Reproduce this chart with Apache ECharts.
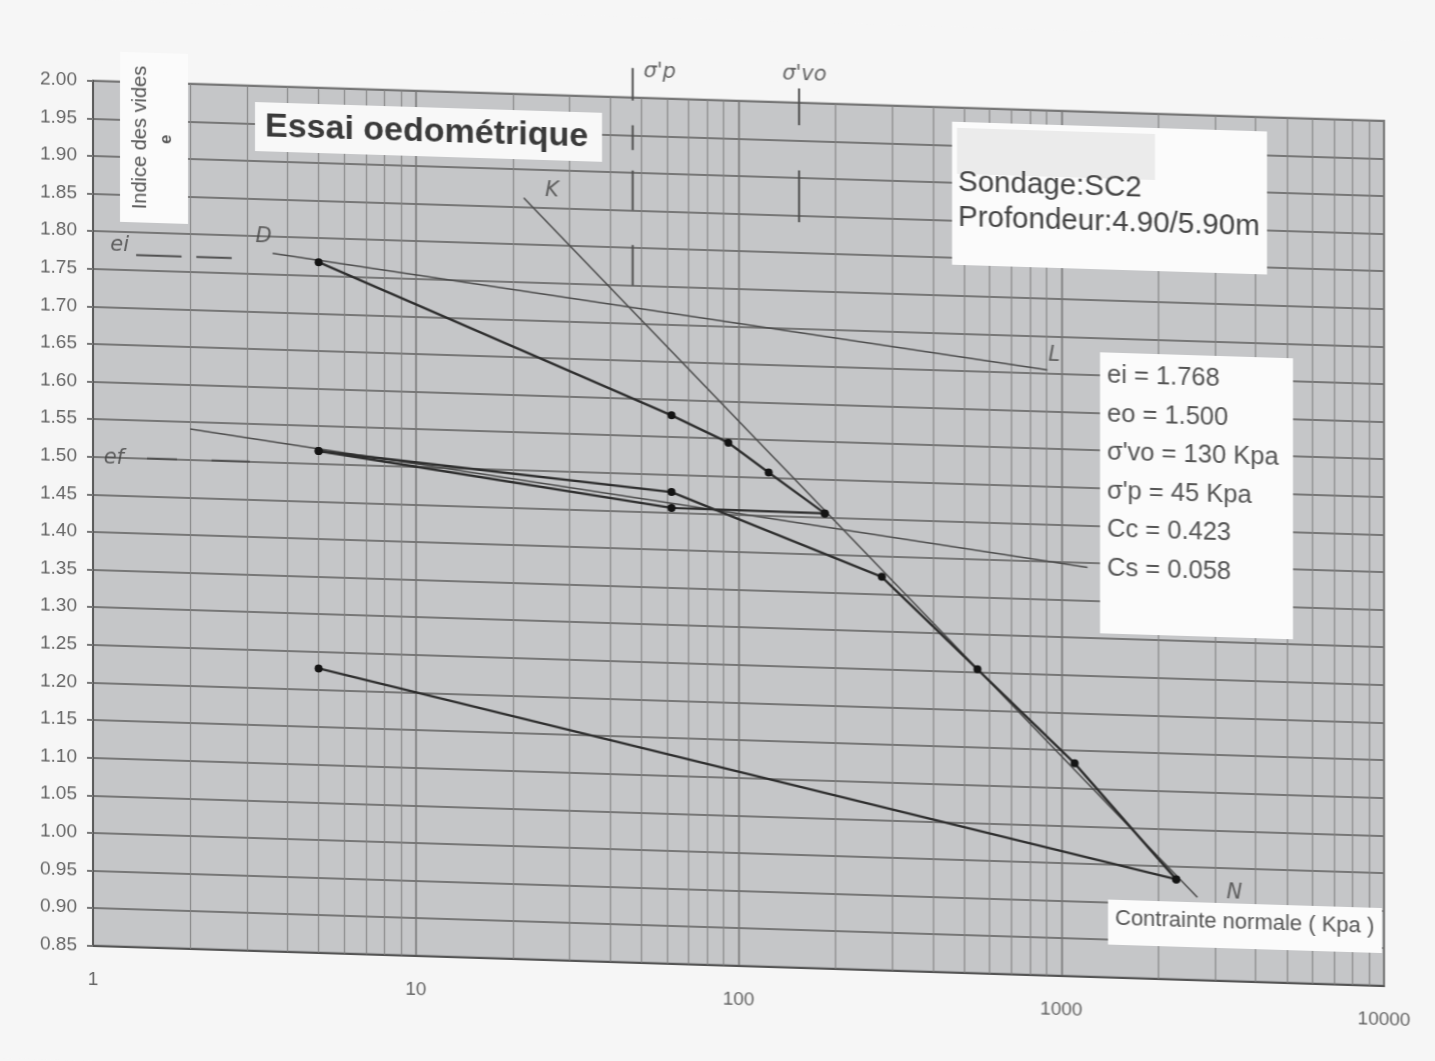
<!DOCTYPE html>
<html><head><meta charset="utf-8">
<script src="https://cdn.jsdelivr.net/npm/echarts@6/dist/echarts.min.js"></script>
<style>
html,body{margin:0;padding:0;background:#f6f6f6;overflow:hidden;}
#c{width:1435px;height:1061px;transform:skewY(1.78deg);transform-origin:93px 80px;}
</style></head><body><div id="c"></div>
<script>
// ---- axis ticks ----
const yTicks = { min: 0.85, max: 2.00, step: 0.05 };
const xTickLabels = [1, 10, 100, 1000, 10000];
const minorMultipliers = [2, 3, 4, 5, 6, 7, 8, 9];

// ---- test points (contrainte Kpa, indice des vides e) ----
const loadX = [5, 62, 93, 124, 185];
const loadE = [1.768, 1.579, 1.545, 1.507, 1.455];
const unloadX = [185, 62, 5];
const unloadE = [1.455, 1.456, 1.517];
const reloadX = [5, 62, 278, 550, 1100, 2270];
const reloadE = [1.517, 1.477, 1.373, 1.254, 1.133, 0.983];
const finalX = [2270, 5];
const finalE = [0.983, 1.228];

// ---- hand-drawn construction lines ----
const lineDX = [3.6, 905];   const lineDE = [1.778, 1.655];
const lineKX = [21.6, 2640]; const lineKE = [1.862, 0.960];
const lineCsX = [2, 1205];   const lineCsE = [1.541, 1.394];
const eiDashX = [[1.36, 1.88], [2.09, 2.69]]; const eiLevel = 1.770;
const efDashX = [[1.47, 1.82], [2.33, 3.06]]; const efLevel = 1.500;
const sigmaPX = 47;  const sigmaPSegs = [[2.039, 1.996], [1.963, 1.930], [1.903, 1.850], [1.804, 1.750]];
const sigmaVX = 154; const sigmaVSegs = [[2.019, 1.970], [1.910, 1.841]];

// ---- hand annotations ----
const handText = ['ei', 'ef', 'D', 'L', 'K', 'N', "σ'p", "σ'vo"];
const handX = [1.21, 1.16, 3.38, 950, 26.4, 3436, 57, 160];
const handE = [1.782, 1.499, 1.800, 1.675, 1.873, 0.967, 2.035, 2.037];

// ---- summary text ----
const paramLines = ['ei = 1.768', 'eo = 1.500', "σ'vo = 130 Kpa", "σ'p = 45 Kpa", 'Cc = 0.423', 'Cs = 0.058'];
const infoLines = ['Sondage:SC2', 'Profondeur:4.90/5.90m'];

const pair = (xs, es) => xs.map((x, i) => [x, es[i]]);
const dashes = (segs, level) => { const d = []; segs.forEach((s, i) => { if (i) d.push([s[0], '-']); d.push([s[0], level], [s[1], level]); }); return d; };
const vsegs = (x, segs) => { const d = []; segs.forEach((s, i) => { if (i) d.push([x, '-']); d.push([x, s[0]], [x, s[1]]); }); return d; };

const minorX = [];
for (let d = 0; d < 4; d++) minorMultipliers.forEach(k => minorX.push(k * Math.pow(10, d)));

const dataStyle = { type: 'line', z: 4, symbol: 'circle', symbolSize: 8, showSymbol: true,
  lineStyle: { color: '#2e2e2e', width: 2.4 }, itemStyle: { color: '#141414' }, clip: false, silent: true };
const constr = { type: 'line', z: 3, symbol: 'none', lineStyle: { color: '#4d4d4d', width: 1.6 }, clip: false, silent: true };
const hand = { type: 'line', z: 3, symbol: 'none', lineStyle: { color: '#505050', width: 2 }, clip: false, silent: true, connectNulls: false };

const chart = echarts.init(document.getElementById('c'), null, { renderer: 'canvas' });
const FONT = '"Liberation Sans", Arial, sans-serif';
chart.setOption({
  backgroundColor: '#f6f6f6',
  animation: false,
  grid: { left: 93, top: 80.7, width: 1291, height: 865, show: true, backgroundColor: '#c5c6c8', borderColor: '#5a5a5a', borderWidth: 2, z: 0 },
  xAxis: {
    type: 'log', logBase: 10, min: xTickLabels[0], max: xTickLabels[xTickLabels.length - 1], z: 0,
    axisLine: { show: true, lineStyle: { color: '#555', width: 2 } },
    axisTick: { show: false },
    splitLine: { show: true, lineStyle: { color: '#777', width: 1.6 } },
    axisLabel: { margin: 25, fontSize: 19, color: '#666', fontFamily: FONT, formatter: v => String(Math.round(v)) }
  },
  yAxis: {
    type: 'value', min: yTicks.min, max: yTicks.max, interval: yTicks.step, z: 0,
    axisLine: { show: true, lineStyle: { color: '#555', width: 2 } },
    axisTick: { show: true, length: 6, lineStyle: { color: '#777', width: 2 } },
    splitLine: { show: true, lineStyle: { color: '#777', width: 1.8 } },
    axisLabel: { margin: 16, fontSize: 19, color: '#666', fontFamily: FONT, formatter: v => v.toFixed(2) }
  },
  graphic: [
    { type: 'rect', z: 2, shape: { x: 120, y: 51, width: 68, height: 170 }, style: { fill: '#fbfbfb' } },
    { type: 'text', z: 3, x: 140, y: 136, rotation: Math.PI / 2, style: { text: 'Indice des vides', font: '20px ' + FONT, fill: '#555', align: 'center', verticalAlign: 'middle' } },
    { type: 'text', z: 3, x: 166, y: 137, rotation: Math.PI / 2, style: { text: 'e', font: 'bold 17px ' + FONT, fill: '#555', align: 'center', verticalAlign: 'middle' } },
    { type: 'rect', z: 2, shape: { x: 255, y: 97, width: 347, height: 49 }, style: { fill: '#f8f8f8' } },
    { type: 'text', z: 3, x: 265, y: 122, style: { text: 'Essai oedométrique', font: 'bold 34px ' + FONT, fill: '#3a3a3a', verticalAlign: 'middle' } },
    { type: 'rect', z: 2, shape: { x: 952, y: 95, width: 315, height: 143 }, style: { fill: '#fbfbfb' } },
    { type: 'rect', z: 2, shape: { x: 957, y: 101, width: 198, height: 46 }, style: { fill: '#ebebeb' } },
    { type: 'text', z: 3, x: 958, y: 156, style: { text: infoLines[0], font: '29.5px ' + FONT, fill: '#444', verticalAlign: 'middle' } },
    { type: 'text', z: 3, x: 958, y: 191, style: { text: infoLines[1], font: '29.5px ' + FONT, fill: '#444', verticalAlign: 'middle' } },
    { type: 'rect', z: 2, shape: { x: 1100, y: 321, width: 193, height: 281 }, style: { fill: '#fbfbfb' } }
  ].concat(paramLines.map((t, i) => ({ type: 'text', z: 3, x: 1107, y: 344 + i * 38.6, style: { text: t, font: '25.5px ' + FONT, fill: '#555', verticalAlign: 'middle' } })))
   .concat([
    { type: 'rect', z: 2, shape: { x: 1108, y: 868, width: 274, height: 45 }, style: { fill: '#fbfbfb' } },
    { type: 'text', z: 3, x: 1115, y: 887, style: { text: 'Contrainte normale ( Kpa )', font: '22px ' + FONT, fill: '#555', verticalAlign: 'middle' } }
  ]),
  series: [
    { type: 'line', z: 0.5, silent: true, symbol: 'none', data: [[1, 0.85]], lineStyle: { opacity: 0 },
      markLine: { z: 0.6, silent: true, symbol: ['none', 'none'], animation: false, label: { show: false },
        lineStyle: { color: '#838383', width: 1.1, type: 'solid' }, data: minorX.map(v => ({ xAxis: v })) } },
    Object.assign({ name: 'Chargement', data: pair(loadX, loadE) }, dataStyle),
    Object.assign({ name: 'Déchargement', data: pair(unloadX, unloadE) }, dataStyle),
    Object.assign({ name: 'Rechargement', data: pair(reloadX, reloadE) }, dataStyle),
    Object.assign({ name: 'Déchargement final', data: pair(finalX, finalE) }, dataStyle),
    Object.assign({ name: 'D', data: pair(lineDX, lineDE) }, constr),
    Object.assign({ name: 'Cc', data: pair(lineKX, lineKE) }, constr),
    Object.assign({ name: 'Cs', data: pair(lineCsX, lineCsE) }, constr),
    Object.assign({ name: 'ei', data: dashes(eiDashX, eiLevel) }, hand),
    Object.assign({ name: 'ef', data: dashes(efDashX, efLevel) }, hand),
    Object.assign({ name: "σ'p", data: vsegs(sigmaPX, sigmaPSegs) }, hand),
    Object.assign({ name: "σ'vo", data: vsegs(sigmaVX, sigmaVSegs) }, hand),
    { type: 'scatter', z: 5, silent: true, clip: false, symbolSize: 0,
      data: handText.map((t, i) => [handX[i], handE[i], t]),
      label: { show: true, position: 'inside', formatter: p => p.value[2], fontSize: 21, fontStyle: 'italic', color: '#444', fontFamily: '"DejaVu Sans", sans-serif' } }
  ]
});
</script></body></html>
